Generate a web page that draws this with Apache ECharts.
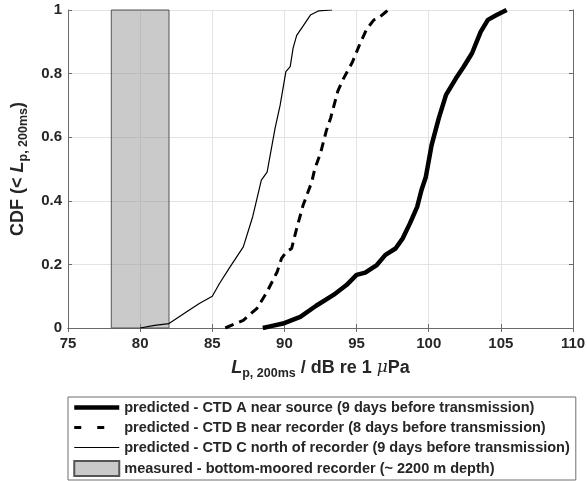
<!DOCTYPE html>
<html>
<head>
<meta charset="utf-8">
<script src="https://cdn.jsdelivr.net/npm/echarts@6/dist/echarts.min.js"></script>
<style>
  html, body { margin: 0; padding: 0; background: #fff; }
  #chart { width: 587px; height: 481px; }
</style>
</head>
<body>
<div id="chart"></div>
<script>
  // values
  const xTicks = [75, 80, 85, 90, 95, 100, 105, 110]
  const yTicks = [0, 0.2, 0.4, 0.6, 0.8, 1]

  // CTD A near source (thick)
  const ctdA_L = [88.5, 89.0, 89.9, 91.1, 92.2, 93.4, 94.3, 95.0, 95.6, 96.4, 97.0, 97.7, 98.2, 98.7, 99.2, 99.5, 99.8, 100.2, 100.7, 101.2, 101.9, 102.4, 103.0, 103.6, 104.1, 104.7, 105.4]
  const ctdA_cdf = [0, 0.005, 0.014, 0.035, 0.07, 0.104, 0.135, 0.167, 0.174, 0.198, 0.23, 0.25, 0.282, 0.329, 0.381, 0.434, 0.475, 0.575, 0.66, 0.733, 0.786, 0.82, 0.864, 0.931, 0.969, 0.984, 1]

  // CTD B near recorder (dashed)
  const ctdB_L = [85.9, 87.15, 88.1, 88.8, 89.5, 89.8, 90.15, 90.5, 90.85, 91.3, 91.9, 92.1, 92.5, 92.9, 93.2, 93.7, 94.1, 94.7, 95.2, 95.7, 96.2, 96.5, 97.0, 97.2]
  const ctdB_cdf = [0, 0.024, 0.062, 0.114, 0.177, 0.219, 0.24, 0.25, 0.313, 0.387, 0.46, 0.5, 0.55, 0.62, 0.66, 0.745, 0.785, 0.835, 0.89, 0.94, 0.969, 0.974, 0.993, 1]

  // CTD C north of recorder (thin)
  const ctdC_L = [80.0, 81.0, 82.0, 83.2, 84.1, 85.0, 85.5, 86.2, 87.15, 87.8, 88.4, 88.8, 89.35, 89.7, 90.1, 90.4, 90.6, 90.85, 91.3, 91.8, 92.35, 93.3]
  const ctdC_cdf = [0, 0.008, 0.014, 0.05, 0.077, 0.10, 0.14, 0.19, 0.255, 0.35, 0.465, 0.49, 0.628, 0.70, 0.806, 0.822, 0.88, 0.92, 0.95, 0.984, 0.997, 1]

  // measured range, bottom-moored recorder
  const measuredRange = [78, 82]

  const seriesNames = [
    'predicted - CTD A near source (9 days before transmission)',
    'predicted - CTD B near recorder (8 days before transmission)',
    'predicted - CTD C north of recorder (9 days before transmission)',
    'measured - bottom-moored recorder (~ 2200 m depth)'
  ]

  const zip = (xs, ys) => xs.map((x, i) => [x, ys[i]])

  const font = 'Liberation Sans, Arial, Helvetica, sans-serif'
  const txt = '#262626'
  const axisCol = '#6a6a6a'

  const richName = {
    n: { fontFamily: font, fontWeight: 'bold', fontSize: 18, lineHeight: 24, color: txt },
    i: { fontFamily: font, fontWeight: 'bold', fontStyle: 'italic', fontSize: 18, lineHeight: 24, color: txt },
    m: { fontFamily: 'DejaVu Serif, serif', fontStyle: 'italic', fontSize: 17, lineHeight: 24, color: txt },
    s: { fontFamily: font, fontWeight: 'bold', fontSize: 12.5, lineHeight: 12, verticalAlign: 'bottom', color: txt }
  }

  const chart = echarts.init(document.getElementById('chart'), null, { renderer: 'canvas' })

  // hide the circle that line legends draw by default
  const noSymbol = { opacity: 0 }

  const option = {
    backgroundColor: '#fff',
    animation: false,
    grid: { left: 68, right: 14, top: 10, bottom: 153, containLabel: false, outerBoundsMode: 'none' },
    xAxis: [{
      type: 'value', min: xTicks[0], max: xTicks[xTicks.length - 1], interval: 5,
      name: '{i|L}{s|p, 200ms}{n| / dB re 1 }{m|μ}{n|Pa}',
      nameLocation: 'middle', nameGap: 28,
      nameTextStyle: { rich: richName },
      axisLine: { lineStyle: { color: axisCol, width: 1 } },
      axisTick: { inside: true, length: 4, lineStyle: { color: axisCol } },
      axisLabel: { fontFamily: font, fontWeight: 'bold', fontSize: 15, color: txt, margin: 8 },
      splitLine: { show: true, lineStyle: { color: '#e3e3e3', width: 1 } }
    }, {
      type: 'value', position: 'top', min: xTicks[0], max: xTicks[xTicks.length - 1], interval: 5,
      axisLine: { show: true, lineStyle: { color: axisCol, width: 1 } },
      axisTick: { show: true, inside: true, length: 4, lineStyle: { color: axisCol } },
      axisLabel: { show: false }, splitLine: { show: false }
    }],
    yAxis: [{
      type: 'value', min: yTicks[0], max: yTicks[yTicks.length - 1], interval: 0.2,
      name: '{n|CDF (< }{i|L}{s|p, 200ms}{n|)}',
      nameLocation: 'middle', nameGap: 34, nameRotate: 90,
      nameTextStyle: { rich: richName },
      axisLine: { show: true, lineStyle: { color: axisCol, width: 1 } },
      axisTick: { show: true, inside: true, length: 4, lineStyle: { color: axisCol } },
      axisLabel: { fontFamily: font, fontWeight: 'bold', fontSize: 15, color: txt, margin: 6 },
      splitLine: { show: true, lineStyle: { color: '#e3e3e3', width: 1 } }
    }, {
      type: 'value', position: 'right', min: yTicks[0], max: yTicks[yTicks.length - 1], interval: 0.2,
      axisLine: { show: true, lineStyle: { color: axisCol, width: 1 } },
      axisTick: { show: true, inside: true, length: 4, lineStyle: { color: axisCol } },
      axisLabel: { show: false }, splitLine: { show: false }
    }],
    legend: {
      orient: 'vertical', left: 68, top: 397,
      itemWidth: 45, itemHeight: 15, itemGap: 5,
      padding: [3, 6, 3, 4],
      borderColor: '#6e6e6e', borderWidth: 1,
      selectedMode: false,
      lineStyle: { width: 'inherit' },
      textStyle: { fontFamily: font, fontWeight: 'bold', fontSize: 14.5, lineHeight: 15, color: txt },
      data: [
        { name: seriesNames[0], itemStyle: noSymbol, lineStyle: { width: 4.5 } },
        { name: seriesNames[1], itemStyle: noSymbol, lineStyle: { width: 3, type: [7, 16] } },
        { name: seriesNames[2], itemStyle: noSymbol, lineStyle: { width: 1.2 } },
        { name: seriesNames[3], icon: 'rect' }
      ]
    },
    series: [
      {
        name: seriesNames[3], type: 'custom', z: 1,
        encode: { x: [0, 1] },
        data: [measuredRange],
        itemStyle: { color: 'rgba(150,150,150,0.5)', borderColor: '#555', borderWidth: 1 },
        renderItem: function (params, api) {
          const p0 = api.coord([api.value(0), yTicks[yTicks.length - 1]])
          const p1 = api.coord([api.value(1), yTicks[0]])
          return {
            type: 'rect',
            shape: { x: p0[0], y: p0[1], width: p1[0] - p0[0], height: p1[1] - p0[1] },
            style: api.style()
          }
        }
      },
      {
        name: seriesNames[0], type: 'line', z: 3, symbol: 'none',
        lineStyle: { color: '#000', width: 4.5 }, itemStyle: { color: '#000' },
        data: zip(ctdA_L, ctdA_cdf)
      },
      {
        name: seriesNames[1], type: 'line', z: 3, symbol: 'none',
        lineStyle: { color: '#000', width: 3, type: [9, 6] }, itemStyle: { color: '#000' },
        data: zip(ctdB_L, ctdB_cdf)
      },
      {
        name: seriesNames[2], type: 'line', z: 3, symbol: 'none',
        lineStyle: { color: '#000', width: 1.2 }, itemStyle: { color: '#000' },
        data: zip(ctdC_L, ctdC_cdf)
      }
    ]
  }

  chart.setOption(option)
</script>
</body>
</html>
